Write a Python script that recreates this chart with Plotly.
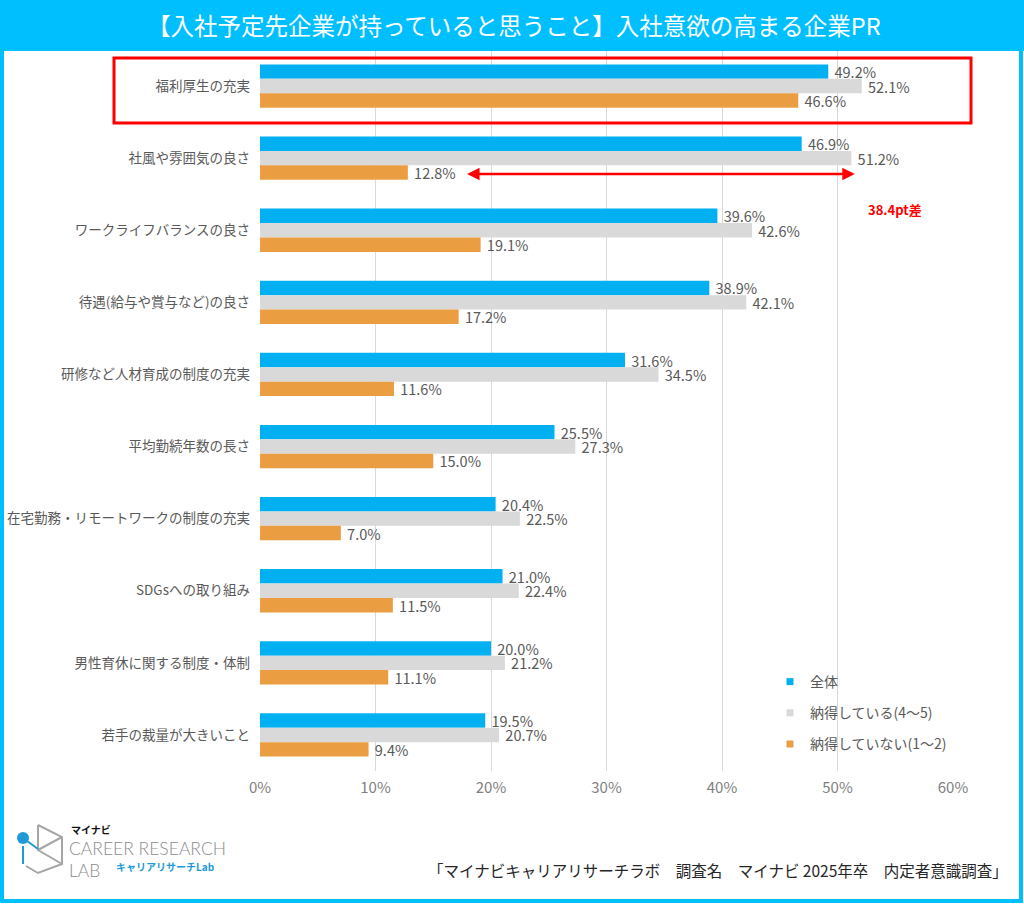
import plotly.graph_objects as go

categories = ["福利厚生の充実", "社風や雰囲気の良さ", "ワークライフバランスの良さ", "待遇(給与や賞与など)の良さ",
              "研修など人材育成の制度の充実", "平均勤続年数の長さ", "在宅勤務・リモートワークの制度の充実",
              "SDGsへの取り組み", "男性育休に関する制度・体制", "若手の裁量が大きいこと"]
series_names = ["全体", "納得している(4～5)", "納得していない(1～2)"]
all_vals = [49.2, 46.9, 39.6, 38.9, 31.6, 25.5, 20.4, 21.0, 20.0, 19.5]
agree_vals = [52.1, 51.2, 42.6, 42.1, 34.5, 27.3, 22.5, 22.4, 21.2, 20.7]
disagree_vals = [46.6, 12.8, 19.1, 17.2, 11.6, 15.0, 7.0, 11.5, 11.1, 9.4]
colors = ["#00B0F0", "#D9D9D9", "#EB9D42"]
x_ticks = [0, 10, 20, 30, 40, 50, 60]

W, H = 1024, 904
L, R, T, B = 260, 71, 50, 133
PW, PH = W - L - R, H - T - B


def px(x):
    return (x - L) / PW


def py(y):
    return (H - B - y) / PH


JP = "Noto Sans CJK JP"
GRAY = "#595959"
CYAN = "#00BFFF"

fig = go.Figure()
for name, vals, col in zip(series_names, [all_vals, agree_vals, disagree_vals], colors):
    fig.add_trace(go.Bar(
        y=categories, x=[v / 100 for v in vals], name=name, orientation="h",
        marker=dict(color=col, line=dict(width=0)),
        text=[f" {v:.1f}%" for v in vals], textposition="outside", constraintext="none",
        textfont=dict(family=JP, size=14.5, color=GRAY),
        cliponaxis=False, showlegend=False,
    ))
# legend entries (small square keys)
for name, col in zip(series_names, colors):
    fig.add_trace(go.Scatter(
        x=[None], y=[None], mode="markers", name=name, legendgroup=name,
        marker=dict(symbol="square", size=7, color=col), showlegend=True,
    ))

shapes = []
# header bar
shapes.append(dict(type="rect", xref="paper", yref="paper", x0=px(0), x1=px(W), y0=py(51), y1=py(0),
                   fillcolor=CYAN, line=dict(width=0), layer="above"))
# outer frame
shapes.append(dict(type="rect", xref="paper", yref="paper", x0=px(2), x1=px(1021), y0=py(901), y1=py(2),
                   fillcolor="rgba(0,0,0,0)", line=dict(color=CYAN, width=4), layer="above"))
# highlight rectangle
shapes.append(dict(type="rect", xref="paper", yref="paper", x0=px(114), x1=px(971), y0=py(123), y1=py(58),
                   fillcolor="rgba(0,0,0,0)", line=dict(color="#FF0000", width=3), layer="above"))


def path(points, close=False):
    s = "M " + " L ".join(f"{px(x)},{py(y)}" for x, y in points)
    return s + (" Z" if close else "")


# logo icon
shapes.append(dict(type="path", xref="paper", yref="paper",
                   path=path([(38, 825), (62, 837), (62, 864), (38, 873), (26, 866)]),
                   line=dict(color="#A6A6A6", width=2)))
shapes.append(dict(type="path", xref="paper", yref="paper",
                   path=path([(38, 825), (38, 850), (62, 864)]), line=dict(color="#A6A6A6", width=2)))
shapes.append(dict(type="path", xref="paper", yref="paper",
                   path=path([(62, 837), (38, 850)]), line=dict(color="#A6A6A6", width=2)))
shapes.append(dict(type="path", xref="paper", yref="paper",
                   path=path([(23, 838), (38, 849)]), line=dict(color="#1E9BD7", width=2)))
shapes.append(dict(type="path", xref="paper", yref="paper",
                   path=path([(23, 846), (23, 864)]), line=dict(color="#1E9BD7", width=2)))
shapes.append(dict(type="circle", xref="paper", yref="paper", x0=px(17), x1=px(29), y0=py(844), y1=py(832),
                   fillcolor="#1E9BD7", line=dict(width=0)))

annotations = [
    dict(text="【入社予定先企業が持っていると思うこと】入社意欲の高まる企業PR", xref="paper", yref="paper",
         x=px(514), y=py(25), xanchor="center", yanchor="middle", showarrow=False,
         font=dict(family=JP, size=23.5, color="white")),
    dict(text="38.4pt差", xref="paper", yref="paper", x=px(866), y=py(209), xanchor="left", yanchor="middle",
         showarrow=False, font=dict(family=JP, size=13, color="#FF0000", weight="bold")),
    dict(text="", xref="x", yref="paper", x=0.515, y=py(174), ax=0.178, ay=0, axref="x", ayref="pixel",
         showarrow=True, arrowhead=2, arrowside="end+start", arrowsize=1, arrowwidth=2.5, arrowcolor="#FF0000"),
    dict(text="「マイナビキャリアリサーチラボ　調査名　マイナビ 2025年卒　内定者意識調査」", xref="paper", yref="paper",
         x=px(1010), y=py(870), xanchor="right", yanchor="middle", showarrow=False,
         font=dict(family=JP, size=15.5, color="#262626")),
    dict(text="マイナビ", xref="paper", yref="paper", x=px(69), y=py(829), xanchor="left", yanchor="middle",
         showarrow=False, font=dict(family=JP, size=10, color="#111111", weight="bold")),
    dict(text="CAREER RESEARCH", xref="paper", yref="paper", x=px(67), y=py(848), xanchor="left",
         yanchor="middle", showarrow=False, font=dict(family="Lato", size=17.5, color="#8C8C8C", weight=300)),
    dict(text="LAB", xref="paper", yref="paper", x=px(67), y=py(870), xanchor="left",
         yanchor="middle", showarrow=False, font=dict(family="Lato", size=17.5, color="#8C8C8C", weight=300)),
    dict(text="キャリアリサーチLab", xref="paper", yref="paper", x=px(114), y=py(866), xanchor="left",
         yanchor="middle", showarrow=False, font=dict(family=JP, size=10, color="#1E9BD7", weight="bold")),
]

fig.update_layout(
    width=W, height=H, margin=dict(l=L, r=R, t=T, b=B, pad=0, autoexpand=False),
    paper_bgcolor="white", plot_bgcolor="white",
    barmode="group", bargap=0.4, bargroupgap=0,
    font=dict(family=JP, color=GRAY),
    xaxis=dict(range=[0, 0.6], tickvals=[v / 100 for v in x_ticks], ticktext=[f"{v}%" for v in x_ticks],
               showgrid=True, gridcolor="#D9D9D9", gridwidth=1, zeroline=False, showline=False,
               tickfont=dict(family=JP, size=15, color="#7F7F7F"), ticks="", ticklabelstandoff=6,
               automargin=False),
    yaxis=dict(autorange="reversed", showgrid=False, showline=False, ticks="",
               tickfont=dict(family=JP, size=13.5, color=GRAY), ticklabelstandoff=9, automargin=False),
    legend=dict(x=px(770), y=py(666), xanchor="left", yanchor="top", traceorder="grouped",
                tracegroupgap=10, bgcolor="rgba(0,0,0,0)",
                font=dict(family=JP, size=14, color=GRAY), itemwidth=30),
    shapes=shapes, annotations=annotations,
)

fig.write_html("out.html", config={"displayModeBar": False},
               post_script="document.body.style.margin='0';document.body.style.overflow='hidden';")
